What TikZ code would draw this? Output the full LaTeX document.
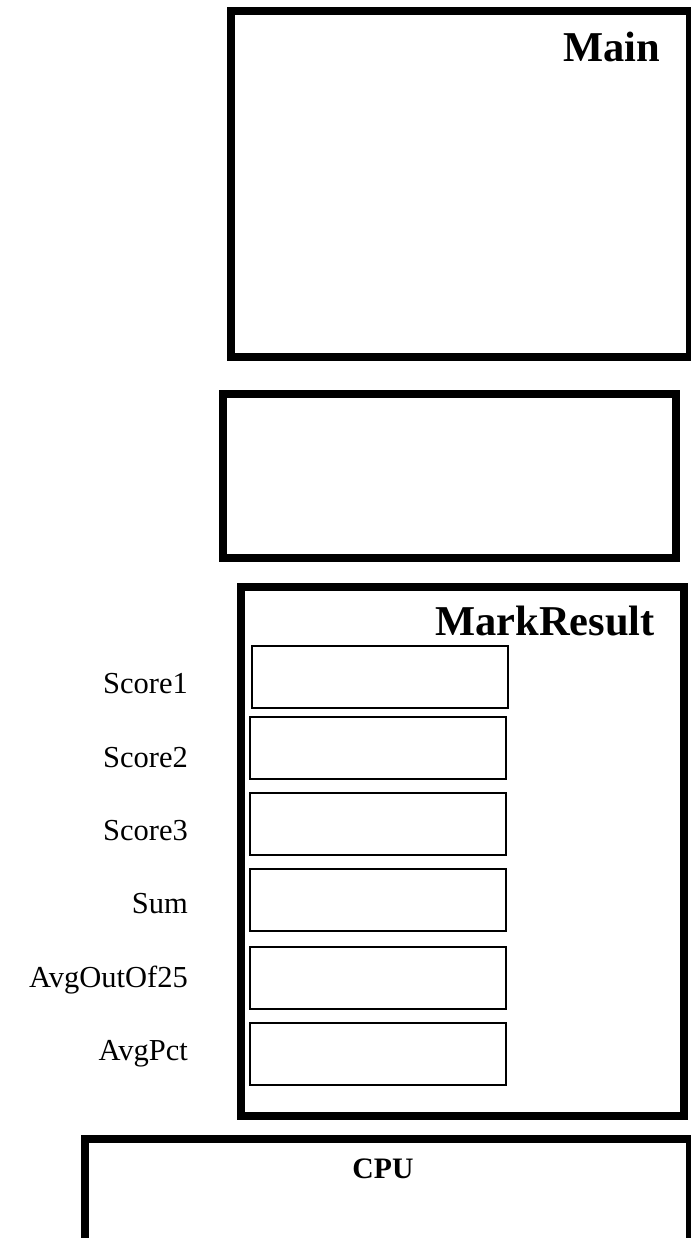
\documentclass[tikz,border=0pt]{standalone}
\usepackage{fontspec}
\setmainfont{Liberation Serif}
\usetikzlibrary{positioning}

\begin{document}
\begin{tikzpicture}[
  x=1pt, y=-1pt,
  frame/.style={draw, line width=8pt, inner sep=0pt, anchor=north west},
  field/.style={draw, line width=2pt, inner sep=0pt, anchor=north west, minimum width=256pt, minimum height=62pt},
  lbl/.style={font=\fontsize{30.5}{36}\selectfont, inner sep=0pt, anchor=base east},
  title/.style={font=\fontsize{42.5}{50}\selectfont\bfseries, inner sep=0pt, anchor=base east}
]
\useasboundingbox (0,0) rectangle (690,1238);

% =========================
% Frames
% =========================
\node[frame, minimum width=459pt, minimum height=346pt] (main) at (227,7) {};
\node[title] (maintitle) at (660,62) {Main};

\node[frame, minimum width=453pt, minimum height=164pt] (middle) at (219,390) {};

\node[frame, minimum width=443pt, minimum height=529pt] (markresult) at (237,583) {};
\node[title] (marktitle) at (655,635) {MarkResult};

% CPU runs off the bottom edge
\node[frame, minimum width=605pt, minimum height=140pt] (cpu) at (81,1135) {};
\node[font=\fontsize{29.7}{36}\selectfont\bfseries, inner sep=0pt, anchor=base] (cputitle) at (383,1178) {CPU};

% =========================
% Fields of MarkResult
% =========================
\foreach \name/\x/\top/\base in {Score1/251/645/693, Score2/249/716/767, Score3/249/792/840,
                                 Sum/249/868/913, AvgOutOf25/249/946/987, AvgPct/249/1022/1060}{
  \node[field] (field-\name) at (\x,\top) {};
  \node[lbl] (lbl-\name) at (188,\base) {\name};
}

\end{tikzpicture}
\end{document}
